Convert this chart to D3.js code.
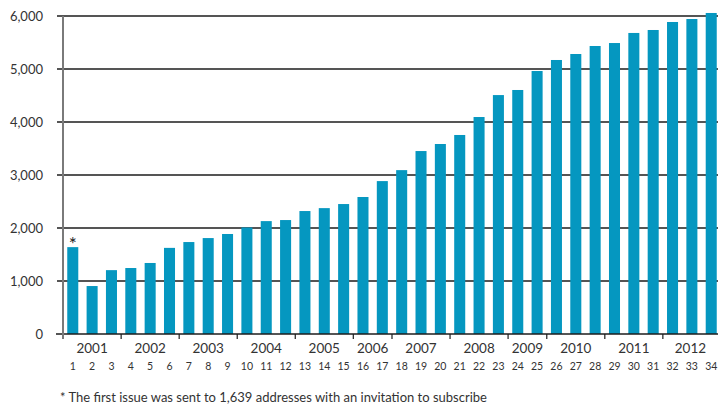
<!DOCTYPE html>
<html>
<head>
<meta charset="utf-8">
<script src="https://cdn.jsdelivr.net/npm/d3@7"></script>
<style>
  html, body { margin: 0; padding: 0; background: #fff; }
  svg { display: block; font-family: Lato, "Open Sans", sans-serif; }
</style>
</head>
<body>
<svg id="chart" width="718" height="410"></svg>
<script>
const issues = ["1","2","3","4","5","6","7","8","9","10","11","12","13","14","15","16","17",
  "18","19","20","21","22","23","24","25","26","27","28","29","30","31","32","33","34"];
const subscribers = [1639, 905, 1205, 1245, 1340, 1625, 1735, 1810, 1887, 2010, 2130,
  2150, 2320, 2375, 2452, 2585, 2885, 3092, 3452, 3585, 3755, 4094, 4508, 4604, 4962,
  5170, 5283, 5434, 5490, 5680, 5736, 5887, 5943, 6057];
const years = ["2001","2002","2003","2004","2005","2006","2007","2008","2009","2010","2011","2012"];
const issuesPerYear = [3, 3, 3, 3, 3, 2, 3, 3, 2, 3, 3, 3];
const yTicks = [0, 1000, 2000, 3000, 4000, 5000, 6000];
const footnote = "* The first issue was sent to 1,639 addresses with an invitation to subscribe";

const svg = d3.select("#chart");
const W = 718;
const axisX = 63, baseY = 334, topY = 16;
const textColor = "#333";
const fw = 400;

const x = d3.scaleBand().domain(issues).range([axisX, 721]).paddingInner(0.43).paddingOuter(0.22);
const y = d3.scaleLinear().domain([0, 6000]).range([baseY, topY]);

// gridlines
const grid = svg.append("g");
grid.selectAll("line").data(yTicks.filter(d => d > 0)).join("line")
  .attr("x1", 57).attr("x2", W)
  .attr("y1", d => y(d)).attr("y2", d => y(d))
  .attr("stroke", "#1c1c1c").attr("stroke-width", 1.4);

// y labels
svg.append("g").selectAll("text").data(yTicks).join("text")
  .attr("x", 43).attr("y", d => y(d)).attr("dy", "0.35em")
  .attr("text-anchor", "end").attr("fill", textColor)
  .attr("font-size", 13).attr("font-weight", fw)
  .text(d => d3.format(",")(d));

// bars
svg.append("g").selectAll("rect").data(subscribers).join("rect")
  .attr("x", (d, i) => x(issues[i]))
  .attr("width", x.bandwidth())
  .attr("y", d => y(d))
  .attr("height", d => baseY - y(d))
  .attr("fill", "#0597c0");

// asterisk
svg.append("text")
  .attr("x", x(issues[0]) + x.bandwidth() / 2)
  .attr("y", y(subscribers[0]) + 4)
  .attr("text-anchor", "middle").attr("fill", "#222")
  .attr("font-size", 19).text("*");

// baseline
svg.append("line").attr("x1", 56).attr("x2", W).attr("y1", baseY).attr("y2", baseY)
  .attr("stroke", "#1c1c1c").attr("stroke-width", 1.4);

// y axis line
svg.append("line").attr("x1", axisX).attr("x2", axisX).attr("y1", topY).attr("y2", baseY + 5)
  .attr("stroke", "#7a7a7a").attr("stroke-width", 2);

// year boundaries
let idx = 0;
const bounds = [axisX];
issuesPerYear.forEach((n, k) => {
  idx += n;
  if (idx < issues.length) {
    const a = x(issues[idx - 1]) + x.bandwidth();
    const b = x(issues[idx]);
    bounds.push((a + b) / 2);
  } else {
    bounds.push(W);
  }
});
svg.append("g").selectAll("line").data(bounds.slice(1, -1)).join("line")
  .attr("x1", d => d).attr("x2", d => d)
  .attr("y1", baseY).attr("y2", baseY + 5)
  .attr("stroke", "#1c1c1c").attr("stroke-width", 1.2);

svg.append("g").selectAll("text").data(years).join("text")
  .attr("x", (d, i) => (bounds[i] + bounds[i + 1]) / 2)
  .attr("y", 353)
  .attr("text-anchor", "middle").attr("fill", textColor)
  .attr("font-size", 13.5).attr("font-weight", fw)
  .text(d => d);

// issue numbers
svg.append("g").selectAll("text").data(issues).join("text")
  .attr("x", d => x(d) + x.bandwidth() / 2)
  .attr("y", 370)
  .attr("text-anchor", "middle").attr("fill", textColor)
  .attr("font-size", 10.5).attr("font-weight", fw)
  .text(d => d);

// footnote
svg.append("text").attr("x", 60).attr("y", 402)
  .attr("fill", textColor).attr("font-size", 13).attr("font-weight", fw)
  .text(footnote);
</script>
</body>
</html>
